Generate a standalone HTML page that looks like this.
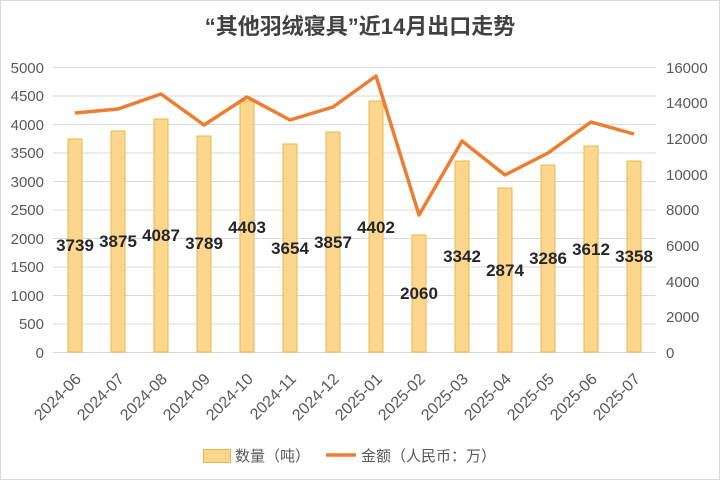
<!DOCTYPE html>
<html><head><meta charset="utf-8"><style>body{margin:0;background:#fff}svg{display:block}</style></head><body>
<svg width="720" height="480" xmlns="http://www.w3.org/2000/svg" font-family="'Liberation Sans','Noto Sans CJK SC',sans-serif">
<rect x="0.5" y="0.5" width="719" height="479" fill="#fff" stroke="#d9d9d9"/>
<text x="360" y="34" text-anchor="middle" font-size="22" font-weight="bold" fill="#404040">“其他羽绒寝具”近14月出口走势</text>
<g stroke="#d9d9d9" stroke-width="1">
<line x1="53" x2="656" y1="67.5" y2="67.5"/><line x1="53" x2="656" y1="96" y2="96"/><line x1="53" x2="656" y1="124.5" y2="124.5"/><line x1="53" x2="656" y1="153" y2="153"/><line x1="53" x2="656" y1="181.5" y2="181.5"/><line x1="53" x2="656" y1="210" y2="210"/><line x1="53" x2="656" y1="238.5" y2="238.5"/><line x1="53" x2="656" y1="267" y2="267"/><line x1="53" x2="656" y1="295.5" y2="295.5"/><line x1="53" x2="656" y1="324" y2="324"/><line x1="53" x2="656" y1="352.5" y2="352.5"/>
</g>
<g font-size="15" fill="#595959" text-anchor="end">
<text x="44" y="73">5000</text><text x="44" y="101">4500</text><text x="44" y="130">4000</text><text x="44" y="158">3500</text><text x="44" y="187">3000</text><text x="44" y="215">2500</text><text x="44" y="244">2000</text><text x="44" y="272">1500</text><text x="44" y="301">1000</text><text x="44" y="329">500</text><text x="44" y="358">0</text>
</g>
<g font-size="15" fill="#595959" text-anchor="start">
<text x="666" y="73">16000</text><text x="666" y="108">14000</text><text x="666" y="144">12000</text><text x="666" y="180">10000</text><text x="666" y="215">8000</text><text x="666" y="251">6000</text><text x="666" y="287">4000</text><text x="666" y="322">2000</text><text x="666" y="358">0</text>
</g>
<g fill="#fdd68e" stroke="#e8b84a" stroke-width="1">
<rect x="68" y="139" width="14" height="213"/>
<rect x="111" y="131" width="14" height="221"/>
<rect x="154" y="119" width="14" height="233"/>
<rect x="197" y="136" width="14" height="216"/>
<rect x="240" y="101" width="14" height="251"/>
<rect x="283" y="144" width="14" height="208"/>
<rect x="326" y="132" width="14" height="220"/>
<rect x="369" y="101" width="14" height="251"/>
<rect x="412" y="235" width="14" height="117"/>
<rect x="455" y="161" width="14" height="191"/>
<rect x="498" y="188" width="14" height="164"/>
<rect x="541" y="165" width="14" height="187"/>
<rect x="584" y="146" width="14" height="206"/>
<rect x="627" y="161" width="14" height="191"/>
</g>
<polyline fill="none" stroke="#ed7d31" stroke-width="3.5" stroke-linejoin="round" points="75,113 118,109 161,94 204,125 247,97 290,120 333,107 376,76 419,215 462,141 505,175 548,153 591,122 634,134"/>
<g font-size="17" font-weight="bold" fill="#262626" text-anchor="middle">
<text x="75" y="251">3739</text><text x="118" y="247">3875</text><text x="161" y="241">4087</text><text x="204" y="249">3789</text><text x="247" y="233">4403</text><text x="290" y="254">3654</text><text x="333" y="248">3857</text><text x="376" y="233">4402</text><text x="419" y="299">2060</text><text x="462" y="262">3342</text><text x="505" y="276">2874</text><text x="548" y="264">3286</text><text x="591" y="255">3612</text><text x="634" y="262">3358</text>
</g>
<g font-size="16" fill="#595959" text-anchor="end">
<text transform="translate(82,380) rotate(-45)">2024-06</text>
<text transform="translate(125,380) rotate(-45)">2024-07</text>
<text transform="translate(168,380) rotate(-45)">2024-08</text>
<text transform="translate(211,380) rotate(-45)">2024-09</text>
<text transform="translate(254,380) rotate(-45)">2024-10</text>
<text transform="translate(297,380) rotate(-45)">2024-11</text>
<text transform="translate(340,380) rotate(-45)">2024-12</text>
<text transform="translate(383,380) rotate(-45)">2025-01</text>
<text transform="translate(426,380) rotate(-45)">2025-02</text>
<text transform="translate(469,380) rotate(-45)">2025-03</text>
<text transform="translate(512,380) rotate(-45)">2025-04</text>
<text transform="translate(555,380) rotate(-45)">2025-05</text>
<text transform="translate(598,380) rotate(-45)">2025-06</text>
<text transform="translate(641,380) rotate(-45)">2025-07</text>
</g>
<rect x="203.5" y="449.5" width="27" height="13" fill="#fdd68e" stroke="#e8b84a"/>
<text x="235" y="461" font-size="15" fill="#595959">数量（吨）</text>
<line x1="326" x2="356" y1="455" y2="455" stroke="#ed7d31" stroke-width="3.5"/>
<text x="361" y="461" font-size="15" fill="#595959">金额（人民币：万）</text>
</svg>
</body></html>
